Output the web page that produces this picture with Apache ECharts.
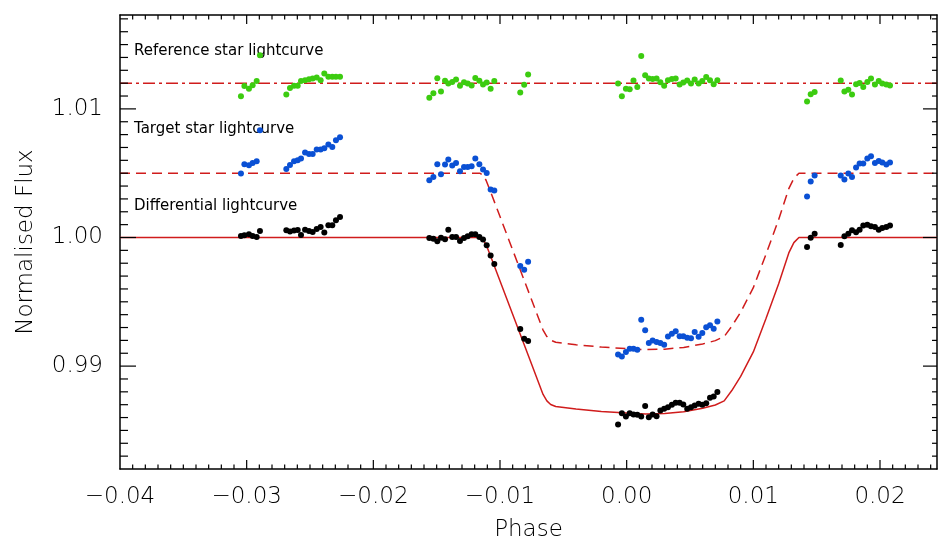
<!DOCTYPE html>
<html>
<head>
<meta charset="utf-8">
<script src="https://cdn.jsdelivr.net/npm/echarts@6/dist/echarts.min.js"></script>
<style>
  html, body { margin: 0; padding: 0; background: #fff; }
  #chart { width: 939px; height: 545px; }
</style>
</head>
<body>
<div id="chart"></div>
<script>
// Orbital phase of every exposure (shared by the three light curves)
const phase = [
  -0.03045, -0.03018, -0.02982, -0.02953, -0.02921, -0.02895,
  -0.02687, -0.02658, -0.02626, -0.02597, -0.02571, -0.02539, -0.02508, -0.02479,
  -0.02447, -0.02416, -0.02387, -0.02355, -0.02324, -0.02295, -0.02263,
  -0.01558, -0.01526, -0.01495, -0.01466, -0.01434, -0.01408, -0.01377, -0.01347,
  -0.01316, -0.01284, -0.01255, -0.01224, -0.01195, -0.01163, -0.01134, -0.01105,
  -0.01074, -0.01045,
  -0.00840, -0.00809, -0.00778,
  -0.00068, -0.00038, -0.00006, 0.00024, 0.00054, 0.00084, 0.00115, 0.00146, 0.00175,
  0.00205, 0.00236, 0.00266, 0.00296, 0.00326, 0.00357, 0.00387, 0.00418, 0.00447,
  0.00478, 0.00508, 0.00537, 0.00568, 0.00597, 0.00628, 0.00658, 0.00687, 0.00716,
  0.01424, 0.01453, 0.01484,
  0.01690, 0.01719, 0.01750, 0.01779, 0.01811, 0.01839, 0.01868, 0.01900, 0.01929,
  0.01960, 0.01990, 0.02018, 0.02050, 0.02079
];

// Reference star (offset by +0.012)
const referenceFlux = [
  1.01099, 1.01177, 1.01156, 1.01184, 1.01216, 1.01418,
  1.01112, 1.01163, 1.01179, 1.01179, 1.01216, 1.01223, 1.01231, 1.01237,
  1.01244, 1.01223, 1.01275, 1.01249, 1.01249, 1.01249, 1.01249,
  1.01086, 1.01122, 1.01239, 1.01135, 1.01218, 1.01198, 1.01210, 1.01229,
  1.01179, 1.01208, 1.01198, 1.01182, 1.01241, 1.01218, 1.01190, 1.01205,
  1.01156, 1.01216,
  1.01128, 1.01187, 1.01268,
  1.01198, 1.01099, 1.01156, 1.01153, 1.01221, 1.01171, 1.01412, 1.01262, 1.01237,
  1.01233, 1.01237, 1.01208, 1.01179, 1.01223, 1.01233, 1.01237, 1.01190, 1.01205,
  1.01221, 1.01198, 1.01229, 1.01198, 1.01216, 1.01247, 1.01223, 1.01192, 1.01223,
  1.01058, 1.01114, 1.01132,
  1.01221, 1.01135, 1.01148, 1.01112, 1.01192, 1.01202, 1.01171, 1.01210, 1.01237,
  1.01190, 1.01216, 1.01198, 1.01190, 1.01182
];

// Target star (offset by +0.005)
const targetFlux = [
  1.00497, 1.00570, 1.00562, 1.00580, 1.00593, 1.00834,
  1.00533, 1.00564, 1.00593, 1.00601, 1.00614, 1.00661, 1.00650, 1.00650,
  1.00684, 1.00684, 1.00694, 1.00723, 1.00704, 1.00756, 1.00780,
  1.00445, 1.00471, 1.00570, 1.00492, 1.00567, 1.00606, 1.00560, 1.00580,
  1.00515, 1.00549, 1.00549, 1.00554, 1.00614, 1.00570, 1.00528, 1.00502,
  1.00373, 1.00365,
  0.99778, 0.99750, 0.99812,
  0.99091, 0.99075, 0.99109, 0.99135, 0.99135, 0.99128, 0.99361, 0.99278, 0.99179,
  0.99200, 0.99187, 0.99179, 0.99167, 0.99231, 0.99252, 0.99272, 0.99233, 0.99233,
  0.99221, 0.99216, 0.99265, 0.99229, 0.99257, 0.99303, 0.99317, 0.99291, 0.99346,
  1.00318, 1.00435, 1.00482,
  1.00482, 1.00451, 1.00497, 1.00471, 1.00544, 1.00575, 1.00575, 1.00614, 1.00632,
  1.00580, 1.00595, 1.00583, 1.00567, 1.00583
];

// Differential light curve (target / reference)
const differentialFlux = [
  1.00012, 1.00017, 1.00025, 1.00012, 1.00004, 1.00051,
  1.00056, 1.00046, 1.00054, 1.00058, 1.00019, 1.00061, 1.00051, 1.00043,
  1.00066, 1.00082, 1.00038, 1.00095, 1.00095, 1.00134, 1.00160,
  0.99996, 0.99991, 0.99970, 0.99999, 0.99986, 1.00061, 1.00004, 1.00004,
  0.99973, 0.99996, 1.00009, 1.00025, 1.00025, 1.00004, 0.99984, 0.99939,
  0.99861, 0.99794,
  0.99288, 0.99213, 0.99195,
  0.98546, 0.98634, 0.98609, 0.98634, 0.98624, 0.98622, 0.98609, 0.98689, 0.98603,
  0.98624, 0.98611, 0.98655, 0.98668, 0.98681, 0.98700, 0.98715, 0.98715, 0.98702,
  0.98668, 0.98681, 0.98694, 0.98707, 0.98700, 0.98712, 0.98754, 0.98764, 0.98798,
  0.99926, 0.99999, 1.00030,
  0.99942, 1.00009, 1.00030, 1.00056, 1.00040, 1.00061, 1.00093, 1.00100, 1.00087,
  1.00082, 1.00061, 1.00074, 1.00082, 1.00093
];

// Transit model curve
const modelPhase = [
  -0.0400, -0.0116, -0.01135, -0.0111, -0.0108, -0.0076, -0.0066, -0.0063, -0.0060,
  -0.0056, -0.0040, -0.0020, 0.0000, 0.0015, 0.0030, 0.0045, 0.0060, 0.0070, 0.0077,
  0.0083, 0.0090, 0.0100, 0.0110, 0.0120, 0.0128, 0.0132, 0.0136, 0.0245
];
const modelFlux = [
  1.00000, 1.00000, 0.99985, 0.99945, 0.99870, 0.99040, 0.98780, 0.98730, 0.98702,
  0.98686, 0.98666, 0.98648, 0.98636, 0.98628, 0.98632, 0.98645, 0.98672, 0.98698, 0.98730,
  0.98810, 0.98920, 0.99110, 0.99370, 0.99640, 0.99880, 0.99960, 1.00000, 1.00000
];
// Same model placed at the target star level
const targetModelFlux = [
  1.00500, 1.00500, 1.00485, 1.00445, 1.00370, 0.99540, 0.99280, 0.99230, 0.99202,
  0.99186, 0.99166, 0.99148, 0.99136, 0.99128, 0.99132, 0.99145, 0.99172, 0.99198, 0.99230,
  0.99310, 0.99420, 0.99610, 0.99870, 1.00140, 1.00380, 1.00460, 1.00500, 1.00500
];
// Flat level of the reference star
const referenceModelPhase = [-0.0400, 0.0245];
const referenceModelFlux = [1.01200, 1.01200];

// Curve captions
const captions = ['Reference star lightcurve', 'Target star lightcurve', 'Differential lightcurve'];

const X_MIN = -0.04, X_MAX = 0.0245;
const Y_MIN = 0.982, Y_MAX = 1.0173;
const TICK_STEP = 0.001;

const pairs = (xs, ys) => xs.map((x, i) => [x, ys[i]]);
const isMajor = v => Math.abs(v * 100 - Math.round(v * 100)) < 1e-6;
const fmt = v => {
  if (!isMajor(v)) return '';
  const s = Math.abs(v).toFixed(2);
  return v < -1e-9 ? '\u2212' + s : s;
};

const FONT = 'DejaVu Sans';
const WEIGHT = 200;
const RED = '#d01c1c';
const INK = '#000';

const frameLine = () => ({ show: true, onZero: false, lineStyle: { color: INK, width: 1.5 } });

function xAxisDef(pos, withLabels) {
  const a = {
    type: 'value', position: pos, min: X_MIN, max: X_MAX, minInterval: 0.01, maxInterval: 0.01,
    splitLine: { show: false },
    axisLine: frameLine(),
    axisTick: { show: false },
    axisLabel: { show: false }
  };
  if (withLabels) {
    a.axisLabel = { show: true, formatter: fmt, color: INK, fontSize: 23, fontFamily: FONT, fontWeight: WEIGHT,
      margin: 17, showMinLabel: true, showMaxLabel: false, hideOverlap: false };
    a.name = 'Phase';
    a.nameLocation = 'middle';
    a.nameGap = 50;
    a.nameTextStyle = { color: INK, fontSize: 23, fontFamily: FONT, fontWeight: WEIGHT };
  }
  return a;
}

function yAxisDef(pos, withLabels) {
  const a = {
    type: 'value', position: pos, min: Y_MIN, max: Y_MAX, minInterval: 0.01, maxInterval: 0.01,
    splitLine: { show: false },
    axisLine: frameLine(),
    axisTick: { show: false },
    axisLabel: { show: false }
  };
  if (withLabels) {
    a.axisLabel = { show: true, formatter: fmt, color: INK, fontSize: 23, fontFamily: FONT, fontWeight: WEIGHT,
      margin: 17, showMinLabel: false, showMaxLabel: false, hideOverlap: false };
    a.name = 'Normalised Flux';
    a.nameLocation = 'middle';
    a.nameGap = 82;
    a.nameTextStyle = { color: INK, fontSize: 23, fontFamily: FONT, fontWeight: WEIGHT };
  }
  return a;
}

const chart = echarts.init(document.getElementById('chart'), null, { renderer: 'canvas' });

const captionTop = [51, 129, 206];
const captionGraphics = captions.map((t, i) => ({
  type: 'text', x: 134, y: captionTop[i], z: 1, silent: true,
  style: { text: t, fill: INK, font: '15px "' + FONT + '"', verticalAlign: 'middle' }
}));

chart.setOption({
  animation: false,
  backgroundColor: '#fff',
  grid: { left: 120, right: 2, top: 15, bottom: 76, outerBoundsMode: 'none' },
  xAxis: [xAxisDef('bottom', true), xAxisDef('top', false)],
  yAxis: [yAxisDef('left', true), yAxisDef('right', false)],
  graphic: captionGraphics,
  series: [
    // invisible copy of the reference points so the top/right axes share the scales
    {
      type: 'scatter', data: pairs(phase, referenceFlux), xAxisIndex: 1, yAxisIndex: 1,
      silent: true, symbolSize: 2, itemStyle: { opacity: 0 }, z: 0
    },
    {
      name: 'Reference model', type: 'line', xAxisIndex: 0, yAxisIndex: 0,
      data: pairs(referenceModelPhase, referenceModelFlux), showSymbol: false, symbol: 'none',
      lineStyle: { color: RED, width: 1.5, type: [12, 4, 3, 4] }, z: 3
    },
    {
      name: 'Target model', type: 'line', xAxisIndex: 0, yAxisIndex: 0,
      data: pairs(modelPhase, targetModelFlux), showSymbol: false, symbol: 'none',
      lineStyle: { color: RED, width: 1.5, type: [10, 6] }, z: 3
    },
    {
      name: 'Differential model', type: 'line', xAxisIndex: 0, yAxisIndex: 0,
      data: pairs(modelPhase, modelFlux), showSymbol: false, symbol: 'none',
      lineStyle: { color: RED, width: 1.5 }, z: 3
    },
    {
      name: 'Reference star', type: 'scatter', xAxisIndex: 0, yAxisIndex: 0,
      data: pairs(phase, referenceFlux), symbol: 'circle', symbolSize: 6,
      itemStyle: { color: '#3ccc10', opacity: 1 }, z: 4
    },
    {
      name: 'Target star', type: 'scatter', xAxisIndex: 0, yAxisIndex: 0,
      data: pairs(phase, targetFlux), symbol: 'circle', symbolSize: 6,
      itemStyle: { color: '#0a50d4', opacity: 1 }, z: 4
    },
    {
      name: 'Differential', type: 'scatter', xAxisIndex: 0, yAxisIndex: 0,
      data: pairs(phase, differentialFlux), symbol: 'circle', symbolSize: 6,
      itemStyle: { color: '#000', opacity: 1 }, z: 4
    }
  ]
});

// Inward ticks on all four frame edges, every 0.001, longer at each 0.01,
// positioned through the chart's own axis scales
const finder = { xAxisIndex: 0, yAxisIndex: 0 };
const tickLine = (x1, y1, x2, y2) => ({
  type: 'line', silent: true, z: 10,
  shape: { x1, y1, x2, y2 },
  style: { stroke: INK, lineWidth: 1.2 }
});
const tickGraphics = [];
for (let k = 1; X_MIN + k * TICK_STEP < X_MAX - 1e-9; k++) {
  const v = +(X_MIN + k * TICK_STEP).toFixed(4);
  const len = isMajor(v) ? 9 : 4.5;
  const b = chart.convertToPixel(finder, [v, Y_MIN]);
  const t = chart.convertToPixel(finder, [v, Y_MAX]);
  tickGraphics.push(tickLine(b[0], b[1], b[0], b[1] - len));
  tickGraphics.push(tickLine(t[0], t[1], t[0], t[1] + len));
}
for (let k = 1; Y_MIN + k * TICK_STEP < Y_MAX - 1e-9; k++) {
  const v = +(Y_MIN + k * TICK_STEP).toFixed(4);
  const major = isMajor(v);
  const l = chart.convertToPixel(finder, [X_MIN, v]);
  const r = chart.convertToPixel(finder, [X_MAX, v]);
  tickGraphics.push(tickLine(l[0], l[1], l[0] + (major ? 16 : 8), l[1]));
  tickGraphics.push(tickLine(r[0], r[1], r[0] - (major ? 14 : 5), r[1]));
}
chart.setOption({ graphic: captionGraphics.concat(tickGraphics) });
</script>
</body>
</html>
